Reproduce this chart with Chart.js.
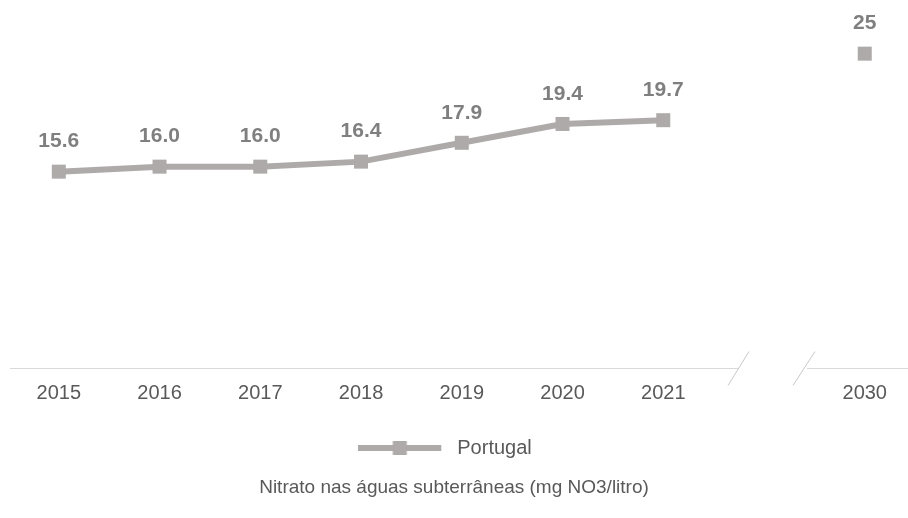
<!DOCTYPE html>
<html>
<head>
<meta charset="utf-8">
<script src="https://cdn.jsdelivr.net/npm/chart.js@4.4.1/dist/chart.umd.min.js"></script>
<style>
html,body{margin:0;padding:0;background:#fff;overflow:hidden}
#wrap{width:908px;height:518px;position:relative}
</style>
</head>
<body>
<div id="wrap"><canvas id="c" width="908" height="518"></canvas></div>
<script>
// ---- data ----
const categories = ['2015','2016','2017','2018','2019','2020','2021','','2030'];
const portugal = [15.6, 16.0, 16.0, 16.4, 17.9, 19.4, 19.7, null, 25];
const valueLabels = ['15.6','16.0','16.0','16.4','17.9','19.4','19.7','','25'];
const seriesName = 'Portugal';
const chartTitle = 'Nitrato nas águas subterrâneas (mg NO3/litro)';

const LINE = '#AEAAA9';
const MARK = '#ADAAA9';
const FONT = "'Liberation Sans', Arial, sans-serif";

// legend symbol: line with square marker
const legendImg = document.createElement('canvas');
legendImg.width = 107; legendImg.height = 16;
(function(){
  const g = legendImg.getContext('2d');
  g.fillStyle = LINE;
  g.fillRect(0, 5, 83, 6);
  g.fillStyle = MARK;
  g.fillRect(34.5, 1, 14, 14);
})();

const valueLabelPlugin = {
  id: 'valueLabels',
  afterDatasetsDraw(chart) {
    const ctx = chart.ctx;
    const meta = chart.getDatasetMeta(0);
    ctx.save();
    ctx.font = "bold 21px " + FONT;
    ctx.fillStyle = '#7F7F7F';
    ctx.textAlign = 'center';
    ctx.textBaseline = 'middle';
    meta.data.forEach((pt, i) => {
      if (portugal[i] == null) return;
      ctx.fillText(valueLabels[i], pt.x, pt.y - 30);
    });
    ctx.restore();
  }
};

const brokenAxisPlugin = {
  id: 'brokenAxis',
  beforeDatasetsDraw(chart) {
    const {ctx, chartArea} = chart;
    const xs = chart.scales.x;
    const p7 = xs.getPixelForValue(7);
    const y = Math.round(chartArea.bottom) + 0.5;
    ctx.save();
    ctx.strokeStyle = '#D9D9D9';
    ctx.lineWidth = 1;
    ctx.beginPath();
    ctx.moveTo(chartArea.left + 10, y); ctx.lineTo(p7 - 26, y);
    ctx.moveTo(p7 + 43, y); ctx.lineTo(chartArea.right, y);
    ctx.stroke();
    ctx.strokeStyle = '#C8C8C8';
    ctx.beginPath();
    ctx.moveTo(p7 - 36, y + 17); ctx.lineTo(p7 - 15, y - 17);
    ctx.moveTo(p7 + 29, y + 17); ctx.lineTo(p7 + 51, y - 17);
    ctx.stroke();
    ctx.restore();
  }
};

new Chart(document.getElementById('c'), {
  type: 'line',
  data: {
    datasets: [{
      label: seriesName,
      data: portugal.map((v, i) => ({x: i, y: v})),
      borderColor: LINE,
      backgroundColor: MARK,
      borderWidth: 6,
      tension: 0,
      spanGaps: false,
      pointStyle: 'rect',
      pointRadius: 9.9,
      pointBorderWidth: 0,
      pointBackgroundColor: MARK,
      pointHoverRadius: 9.9,
      clip: false
    }]
  },
  options: {
    responsive: false,
    animation: false,
    events: [],
    layout: {autoPadding: false, padding: {top: 16, left: 0, right: 0, bottom: 0}},
    scales: {
      x: {
        type: 'linear',
        min: -0.5836,
        max: 8.4293,
        grid: {display: false, drawTicks: false},
        border: {display: false},
        afterBuildTicks: s => {
          s.ticks = categories.map((c, i) => ({value: i})).filter(t => categories[t.value] !== '');
        },
        afterFit: s => { s.height = 60.5; },
        ticks: {
          autoSkip: false,
          maxRotation: 0,
          padding: 14,
          color: '#595959',
          font: {family: FONT, size: 20},
          callback: v => categories[v] ?? ''
        }
      },
      y: {
        display: false,
        min: 0,
        max: 28
      }
    },
    plugins: {
      tooltip: {enabled: false},
      legend: {
        display: true,
        position: 'bottom',
        labels: {
          usePointStyle: true,
          pointStyleWidth: 71,
          color: '#595959',
          font: {family: FONT, size: 20},
          padding: 10,
          generateLabels: chart => [{
            text: seriesName,
            pointStyle: legendImg,
            fillStyle: MARK,
            strokeStyle: LINE,
            lineWidth: 0,
            hidden: false,
            datasetIndex: 0,
            fontColor: '#595959'
          }]
        }
      },
      title: {
        display: true,
        position: 'bottom',
        text: chartTitle,
        color: '#595959',
        font: {family: FONT, size: 19, weight: 'normal'},
        padding: {top: 8.6, bottom: 18.6}
      }
    }
  },
  plugins: [brokenAxisPlugin, valueLabelPlugin]
});
</script>
</body>
</html>
